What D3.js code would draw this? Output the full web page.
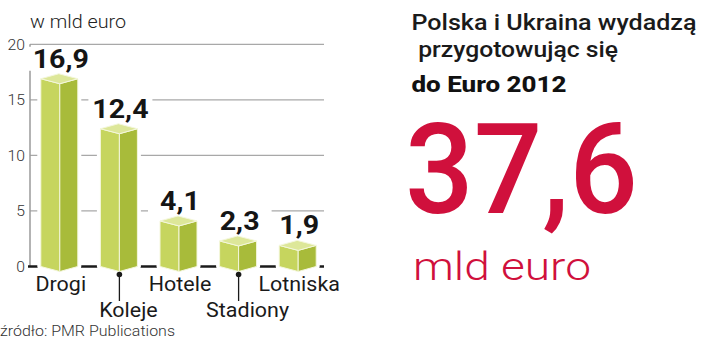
<!DOCTYPE html>
<html>
<head>
<meta charset="utf-8">
<script src="https://cdn.jsdelivr.net/npm/d3@7"></script>
<style>
  html, body { margin: 0; padding: 0; background: #fff; }
  svg { display: block; }
  text { font-family: Roboto, "Noto Sans", sans-serif; }
</style>
</head>
<body>
<svg id="chart" width="720" height="341"></svg>
<script>
// Spending categories (billion euro)
const categories = ["Drogi", "Koleje", "Hotele", "Stadiony", "Lotniska"];
const values = [16.9, 12.4, 4.1, 2.3, 1.9];
const valueLabels = ["16,9", "12,4", "4,1", "2,3", "1,9"];
const yTicks = [0, 5, 10, 15, 20];
const unitLabel = "w mld euro";
const sourceLabel = "źródło: PMR Publications";
const titleLines = ["Polska i Ukraina wydadzą", " przygotowując się", "do Euro 2012"];
const totalLabel = "37,6";
const totalUnit = "mld euro";

const svg = d3.select("#chart");

const y = d3.scaleLinear().domain([0, 20]).range([266.5, 44.3]);
const x = d3.scaleBand().domain(categories).range([30, 328]).padding(0);
const cx = d => x(d) + x.bandwidth() / 2;

const axisLeft = 30, axisRight = 324;

// widen a text run by a factor, keeping its anchor
function widen(sel, k) {
  sel.each(function () {
    const w = this.getComputedTextLength();
    d3.select(this).attr("textLength", w * k).attr("lengthAdjust", "spacingAndGlyphs");
  });
  return sel;
}

// grid lines
svg.append("g").selectAll("line").data(yTicks.filter(t => t > 0)).join("line")
  .attr("x1", axisLeft).attr("x2", axisRight)
  .attr("y1", d => y(d)).attr("y2", d => y(d))
  .attr("stroke", "#a8a8a8").attr("stroke-width", 1.2);

// vertical axis line
svg.append("line")
  .attr("x1", axisLeft).attr("x2", axisLeft)
  .attr("y1", y(20)).attr("y2", y(0))
  .attr("stroke", "#9a9a9a").attr("stroke-width", 1.5);

// tick labels
widen(svg.append("g").selectAll("text").data(yTicks).join("text")
  .attr("x", 25).attr("y", d => y(d) + 5.5)
  .attr("text-anchor", "end")
  .attr("font-size", 15).attr("font-weight", 300)
  .attr("fill", "#333")
  .text(d => d), 1.05);

// baseline
svg.append("line")
  .attr("x1", axisLeft - 2).attr("x2", axisRight)
  .attr("y1", y(0)).attr("y2", y(0))
  .attr("stroke", "#1a1a1a").attr("stroke-width", 2.5);

// 3D boxes
const hl = 19, hr = 18, dz = 5;
const rows = categories.map((c, i) => ({ c, v: values[i], lab: valueLabels[i], i }));

const bars = svg.append("g").selectAll("g").data(rows).join("g");

function pts(arr) { return arr.map(p => p.join(",")).join(" "); }

// white halo around each box
bars.append("polygon")
  .attr("points", d => {
    const c = cx(d.c), t = y(d.v), b = y(0);
    return pts([[c - hl, t], [c - 1, t - dz], [c + hr, t], [c + hr, b], [c, b + dz], [c - hl, b]]);
  })
  .attr("fill", "#fff").attr("stroke", "#fff").attr("stroke-width", 7)
  .attr("stroke-linejoin", "round");

// left (front) face
bars.append("polygon")
  .attr("points", d => {
    const c = cx(d.c), t = y(d.v), b = y(0);
    return pts([[c - hl, t], [c, t + dz], [c, b + dz], [c - hl, b]]);
  })
  .attr("fill", "#c6d55e").attr("stroke", "#f4f7dc").attr("stroke-width", 1);

// right (side) face
bars.append("polygon")
  .attr("points", d => {
    const c = cx(d.c), t = y(d.v), b = y(0);
    return pts([[c, t + dz], [c + hr, t], [c + hr, b], [c, b + dz]]);
  })
  .attr("fill", "#a8bb3a").attr("stroke", "#f4f7dc").attr("stroke-width", 1);

// top face
bars.append("polygon")
  .attr("points", d => {
    const c = cx(d.c), t = y(d.v);
    return pts([[c - hl, t], [c, t + dz], [c + hr, t], [c - 1, t - dz]]);
  })
  .attr("fill", "#dde799").attr("stroke", "#f4f7dc").attr("stroke-width", 1);

// value labels with white backing
const vl = bars.append("g")
  .attr("transform", d => `translate(${cx(d.c) + 1},${y(d.v) - 11})`);
vl.append("rect")
  .attr("x", -32).attr("y", -21).attr("width", 64).attr("height", 24)
  .attr("fill", "#fff");
widen(vl.append("text")
  .attr("text-anchor", "middle")
  .attr("font-size", 26).attr("font-weight", 700)
  .attr("fill", "#151515")
  .text(d => d.lab), 1.1);

// category labels: alternating rows, lower row with a pointer
const low = i => i % 2 === 1;
bars.filter(d => low(d.i)).append("line")
  .attr("x1", d => cx(d.c)).attr("x2", d => cx(d.c))
  .attr("y1", 274.5).attr("y2", 301)
  .attr("stroke", "#1a1a1a").attr("stroke-width", 1.3);
bars.filter(d => low(d.i)).append("circle")
  .attr("cx", d => cx(d.c)).attr("cy", 274.5).attr("r", 2.8)
  .attr("fill", "#1a1a1a");
widen(bars.append("text")
  .attr("x", d => cx(d.c) + (low(d.i) ? 9 : 1))
  .attr("y", d => low(d.i) ? 317 : 290.5)
  .attr("text-anchor", "middle")
  .attr("font-size", 19.5).attr("font-weight", 400)
  .attr("fill", "#1a1a1a")
  .text(d => d.c), 1.1);

// unit and source
svg.append("text").attr("x", 30).attr("y", 28.3)
  .attr("font-size", 18).attr("font-weight", 300).attr("fill", "#222")
  .attr("textLength", 96).attr("lengthAdjust", "spacingAndGlyphs")
  .text(unitLabel);
svg.append("text").attr("x", 0).attr("y", 336)
  .attr("font-size", 15).attr("font-weight", 300).attr("fill", "#333")
  .attr("textLength", 175).attr("lengthAdjust", "spacingAndGlyphs")
  .text(sourceLabel);

// headline block
const head = svg.append("g");
head.append("text").attr("x", 411.5).attr("y", 30)
  .attr("font-size", 21.5).attr("font-weight", 500).attr("fill", "#1a1a1a")
  .attr("textLength", 285).attr("lengthAdjust", "spacingAndGlyphs")
  .text(titleLines[0]);
head.append("text").attr("x", 412).attr("y", 57)
  .attr("font-size", 21.5).attr("font-weight", 500).attr("fill", "#1a1a1a")
  .attr("xml:space", "preserve").style("white-space", "pre")
  .attr("textLength", 206).attr("lengthAdjust", "spacingAndGlyphs")
  .text(titleLines[1]);
head.append("text").attr("x", 411.5).attr("y", 91.5)
  .attr("font-size", 21.5).attr("font-weight", 800).attr("fill", "#111")
  .attr("textLength", 155).attr("lengthAdjust", "spacingAndGlyphs")
  .text(titleLines[2]);

head.append("text").attr("x", 405).attr("y", 213.3)
  .attr("font-size", 126).attr("font-weight", 500).attr("fill", "#d0103c")
  .attr("textLength", 233).attr("lengthAdjust", "spacingAndGlyphs")
  .text(totalLabel);
head.append("text").attr("x", 413).attr("y", 280)
  .attr("font-size", 39).attr("font-weight", 300).attr("fill", "#d0103c")
  .attr("textLength", 178).attr("lengthAdjust", "spacingAndGlyphs")
  .text(totalUnit);
</script>
</body>
</html>
